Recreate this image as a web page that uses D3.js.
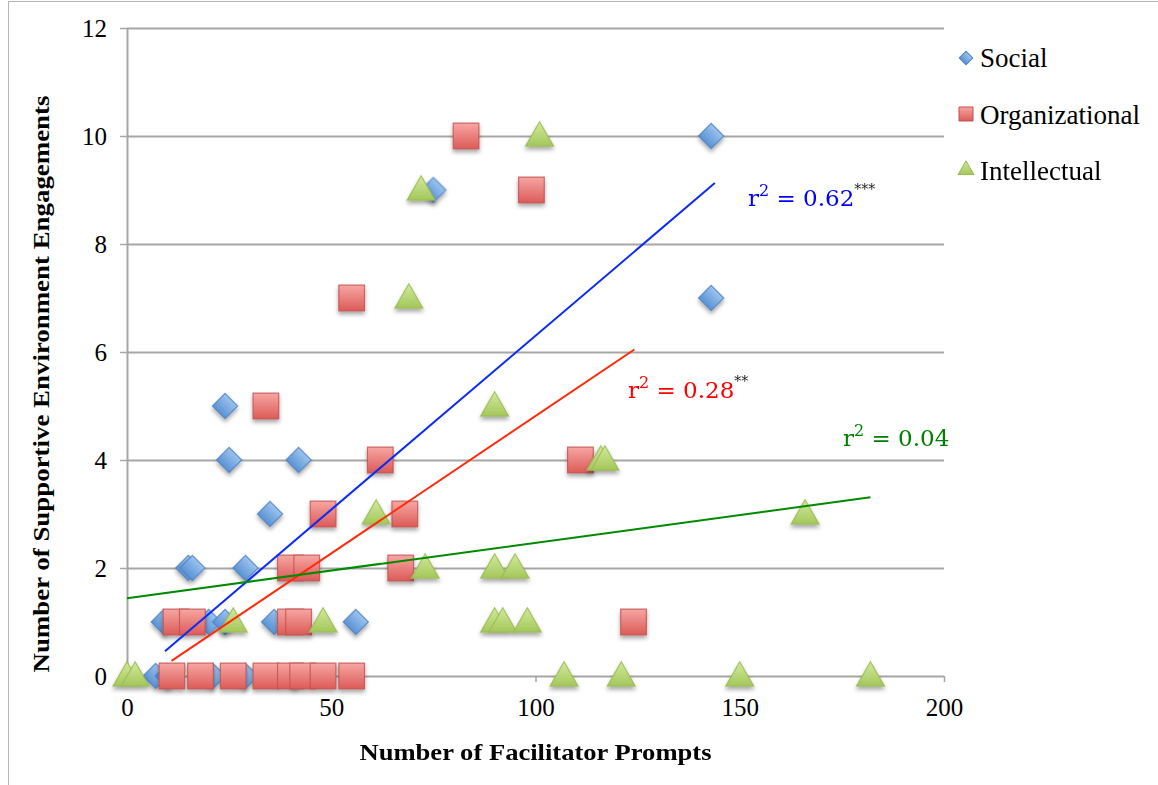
<!DOCTYPE html>
<html>
<head>
<meta charset="utf-8">
<script src="https://cdn.jsdelivr.net/npm/d3@7"></script>
<style>
  body { margin: 0; background: #fff; }
  text { font-family: "Liberation Serif", "Times New Roman", serif; }
</style>
</head>
<body>
<script>
// chart size and plot box
var width = 1158
var height = 785
var margin = { top: 28, left: 127, right: 214, bottom: 109 }

// data: [prompts, engagements]
const social = [
    [143, 10], [143, 7], [75, 9], [24, 5], [25, 4], [42, 4], [35, 3],
    [15, 2], [16, 2], [29, 2], [9, 1], [20, 1], [24, 1], [36, 1], [56, 1],
    [7, 0], [10, 0], [21, 0], [29, 0], [41, 0]
]
const organizational = [
    [83, 10], [99, 9], [55, 7], [34, 5], [62, 4], [111, 4], [48, 3], [68, 3],
    [40, 2], [44, 2], [67, 2], [12, 1], [16, 1], [40, 1], [42, 1], [124, 1],
    [11, 0], [18, 0], [26, 0], [34, 0], [40, 0], [43, 0], [48, 0], [55, 0]
]
const intellectual = [
    [101, 10], [72, 9], [69, 7], [90, 5], [116, 4], [117, 4], [61, 3], [166, 3],
    [73, 2], [90, 2], [95, 2], [26, 1], [48, 1], [90, 1], [92, 1], [98, 1],
    [0, 0], [2, 0], [107, 0], [121, 0], [150, 0], [182, 0]
]
const seriesNames = ['Social', 'Organizational', 'Intellectual']

// trend lines: slope, intercept, x range
const trendSocial = { slope: 0.0644, intercept: -0.139, from: 9.3, to: 143.9 }
const trendOrg = { slope: 0.0509, intercept: -0.275, from: 10.9, to: 124.2 }
const trendIntel = { slope: 0.01027, intercept: 1.44, from: 0, to: 182 }
const r2Labels = ['0.62', '0.28', '0.04']
const r2Stars = ['***', '**', '']

const xTicks = [0, 50, 100, 150, 200]
const yTicks = [0, 2, 4, 6, 8, 10, 12]

var svg = d3.select("body").append("svg")
    .attr("width", width)
    .attr("height", height);

var defs = svg.append("defs")

function addGradient(id, top, bottom) {
    var g = defs.append("linearGradient")
        .attr("id", id)
        .attr("x1", 0).attr("y1", 0).attr("x2", 0).attr("y2", 1)
    g.append("stop").attr("offset", "0%").attr("stop-color", top)
    g.append("stop").attr("offset", "100%").attr("stop-color", bottom)
}
addGradient("gSocial", "#9cc3ee", "#5a92d4")
addGradient("gOrg", "#f7a6a3", "#dc5b57")
addGradient("gIntel", "#d3e99b", "#a3c75a")

var shadow = defs.append("filter").attr("id", "shadow")
    .attr("x", "-30%").attr("y", "-30%").attr("width", "160%").attr("height", "170%")
shadow.append("feDropShadow")
    .attr("dx", 0).attr("dy", 3).attr("stdDeviation", 2)
    .attr("flood-color", "#000").attr("flood-opacity", 0.35)

// outer frame (only top and left edges fall inside the picture)
svg.append("rect")
    .attr("x", 8.5).attr("y", 1.5)
    .attr("width", 1200).attr("height", 820)
    .style("fill", "none")
    .style("stroke", "#b5b5b5")
    .style("stroke-width", 1)

var xScale = d3.scaleLinear()
    .domain([0, 200])
    .range([margin.left, width - margin.right]);

var yScale = d3.scaleLinear()
    .domain([0, 12])
    .range([height - margin.bottom, margin.top]);

function renderGrid() {
    svg.append("g")
        .attr("class", "grid")
        .attr("transform", "translate(" + margin.left + ",0)")
        .call(d3.axisLeft(yScale).tickValues(yTicks)
            .tickSize(-(xScale(200) - margin.left)).tickFormat(""))
        .call(g => g.select(".domain").remove())
        .selectAll("line")
        .style("stroke", "#a6a6a6")
        .style("stroke-width", 2)
}

function renderYAxis() {
    var g = svg.append("g")
        .attr("class", "y-axis")
        .attr("transform", "translate(" + margin.left + ",0)")
        .call(d3.axisLeft(yScale).tickValues(yTicks).tickSize(7).tickSizeOuter(0).tickPadding(13))
    g.select(".domain").style("stroke", "#a6a6a6").style("stroke-width", 2)
    g.selectAll(".tick line").style("stroke", "#a6a6a6").style("stroke-width", 1.5)
    g.selectAll(".tick text")
        .style("font-family", "Liberation Serif")
        .style("font-size", "25px")
        .style("fill", "#000")
}

function renderXAxis() {
    var g = svg.append("g")
        .attr("class", "x-axis")
        .attr("transform", "translate(0," + yScale(0) + ")")
        .call(d3.axisBottom(xScale).tickValues(xTicks).tickSize(6).tickSizeOuter(0).tickPadding(16))
    g.select(".domain").remove()
    g.selectAll(".tick line").style("stroke", "#a6a6a6").style("stroke-width", 1.5)
    g.selectAll(".tick text")
        .style("font-family", "Liberation Serif")
        .style("font-size", "25px")
        .style("fill", "#000")
}

function renderTitles() {
    svg.append("text")
        .attr("x", (xScale(0) + xScale(200)) / 2)
        .attr("y", 760)
        .attr("text-anchor", "middle")
        .attr("textLength", 352)
        .attr("lengthAdjust", "spacingAndGlyphs")
        .style("font-weight", "bold")
        .style("font-size", "24px")
        .text("Number of Facilitator Prompts")

    svg.append("text")
        .attr("transform", "translate(49," + 384 + ") rotate(-90)")
        .attr("text-anchor", "middle")
        .attr("textLength", 577)
        .attr("lengthAdjust", "spacingAndGlyphs")
        .style("font-weight", "bold")
        .style("font-size", "24px")
        .text("Number of Supportive Environment Engagements")
}

const squareSym = d3.symbol().type(d3.symbolSquare)

function renderSeries(data, kind) {
    var g = svg.append("g").attr("filter", "url(#shadow)")
    var marks = g.selectAll("path")
        .data(data)
        .enter()
        .append("path")
    if (kind === 0) {
        marks.attr("d", squareSym.size(318)())
            .attr("transform", d => "translate(" + xScale(d[0]) + "," + yScale(d[1]) + ") rotate(45)")
            .style("fill", "url(#gSocial)")
            .style("stroke", "#4f81bd")
    } else if (kind === 1) {
        marks.attr("d", squareSym.size(660)())
            .attr("transform", d => "translate(" + xScale(d[0]) + "," + yScale(d[1]) + ")")
            .style("fill", "url(#gOrg)")
            .style("stroke", "#c0504d")
    } else {
        marks.attr("d", d3.symbol().type(d3.symbolTriangle).size(340)())
            .attr("transform", d => "translate(" + xScale(d[0]) + "," + (yScale(d[1]) + 2) + ")")
            .style("fill", "url(#gIntel)")
            .style("stroke", "#98b954")
    }
    marks.style("stroke-width", 1.2).style("stroke-opacity", 0.8)
}

function renderTrend(t, color) {
    var line = d3.line()
        .x(d => xScale(d))
        .y(d => yScale(t.slope * d + t.intercept))
    svg.append("path")
        .datum([t.from, t.to])
        .attr("d", line)
        .style("stroke", color)
        .style("stroke-width", 2)
        .style("fill", "none")
}

function renderR2(i, x, y, color) {
    var t = svg.append("text")
        .attr("x", x).attr("y", y)
        .style("font-family", "DejaVu Serif")
        .style("font-size", "23px")
        .style("fill", color)
    t.append("tspan").text("r")
    t.append("tspan").attr("dy", -10).style("font-size", "16px").text("2")
    t.append("tspan").attr("dy", 10).text(" = " + r2Labels[i])
    if (r2Stars[i]) {
        t.append("tspan").attr("dy", -12)
            .style("font-size", "14px")
            .style("fill", "#222")
            .text(r2Stars[i])
    }
}

function renderLegend() {
    var rows = [58, 115, 171]
    seriesNames.forEach(function (name, i) {
        var y = rows[i]
        var g = svg.append("g")
        if (i === 0) {
            g.append("path").attr("d", squareSym.size(92)())
                .attr("transform", "translate(966," + y + ") rotate(45)")
                .style("fill", "url(#gSocial)").style("stroke", "#4f81bd")
        } else if (i === 1) {
            g.append("path").attr("d", squareSym.size(196)())
                .attr("transform", "translate(966," + (y - 1) + ")")
                .style("fill", "url(#gOrg)").style("stroke", "#c0504d")
        } else {
            g.append("path").attr("d", d3.symbol().type(d3.symbolTriangle).size(110)())
                .attr("transform", "translate(966," + (y - 1) + ")")
                .style("fill", "url(#gIntel)").style("stroke", "#98b954")
        }
        g.append("text")
            .attr("x", 980).attr("y", y + 9)
            .style("font-size", "27px")
            .style("fill", "#000")
            .text(name)
    })
}

renderGrid();
renderYAxis();
renderXAxis();
renderSeries(social, 0);
renderSeries(organizational, 1);
renderSeries(intellectual, 2);
renderTrend(trendSocial, "#0a2cf5");
renderTrend(trendOrg, "#ff2a0a");
renderTrend(trendIntel, "#008a00");
renderR2(0, 748, 206, "#0000ff");
renderR2(1, 628, 398, "#ff0000");
renderR2(2, 843, 446, "#008000");
renderLegend();
renderTitles();
</script>
</body>
</html>
